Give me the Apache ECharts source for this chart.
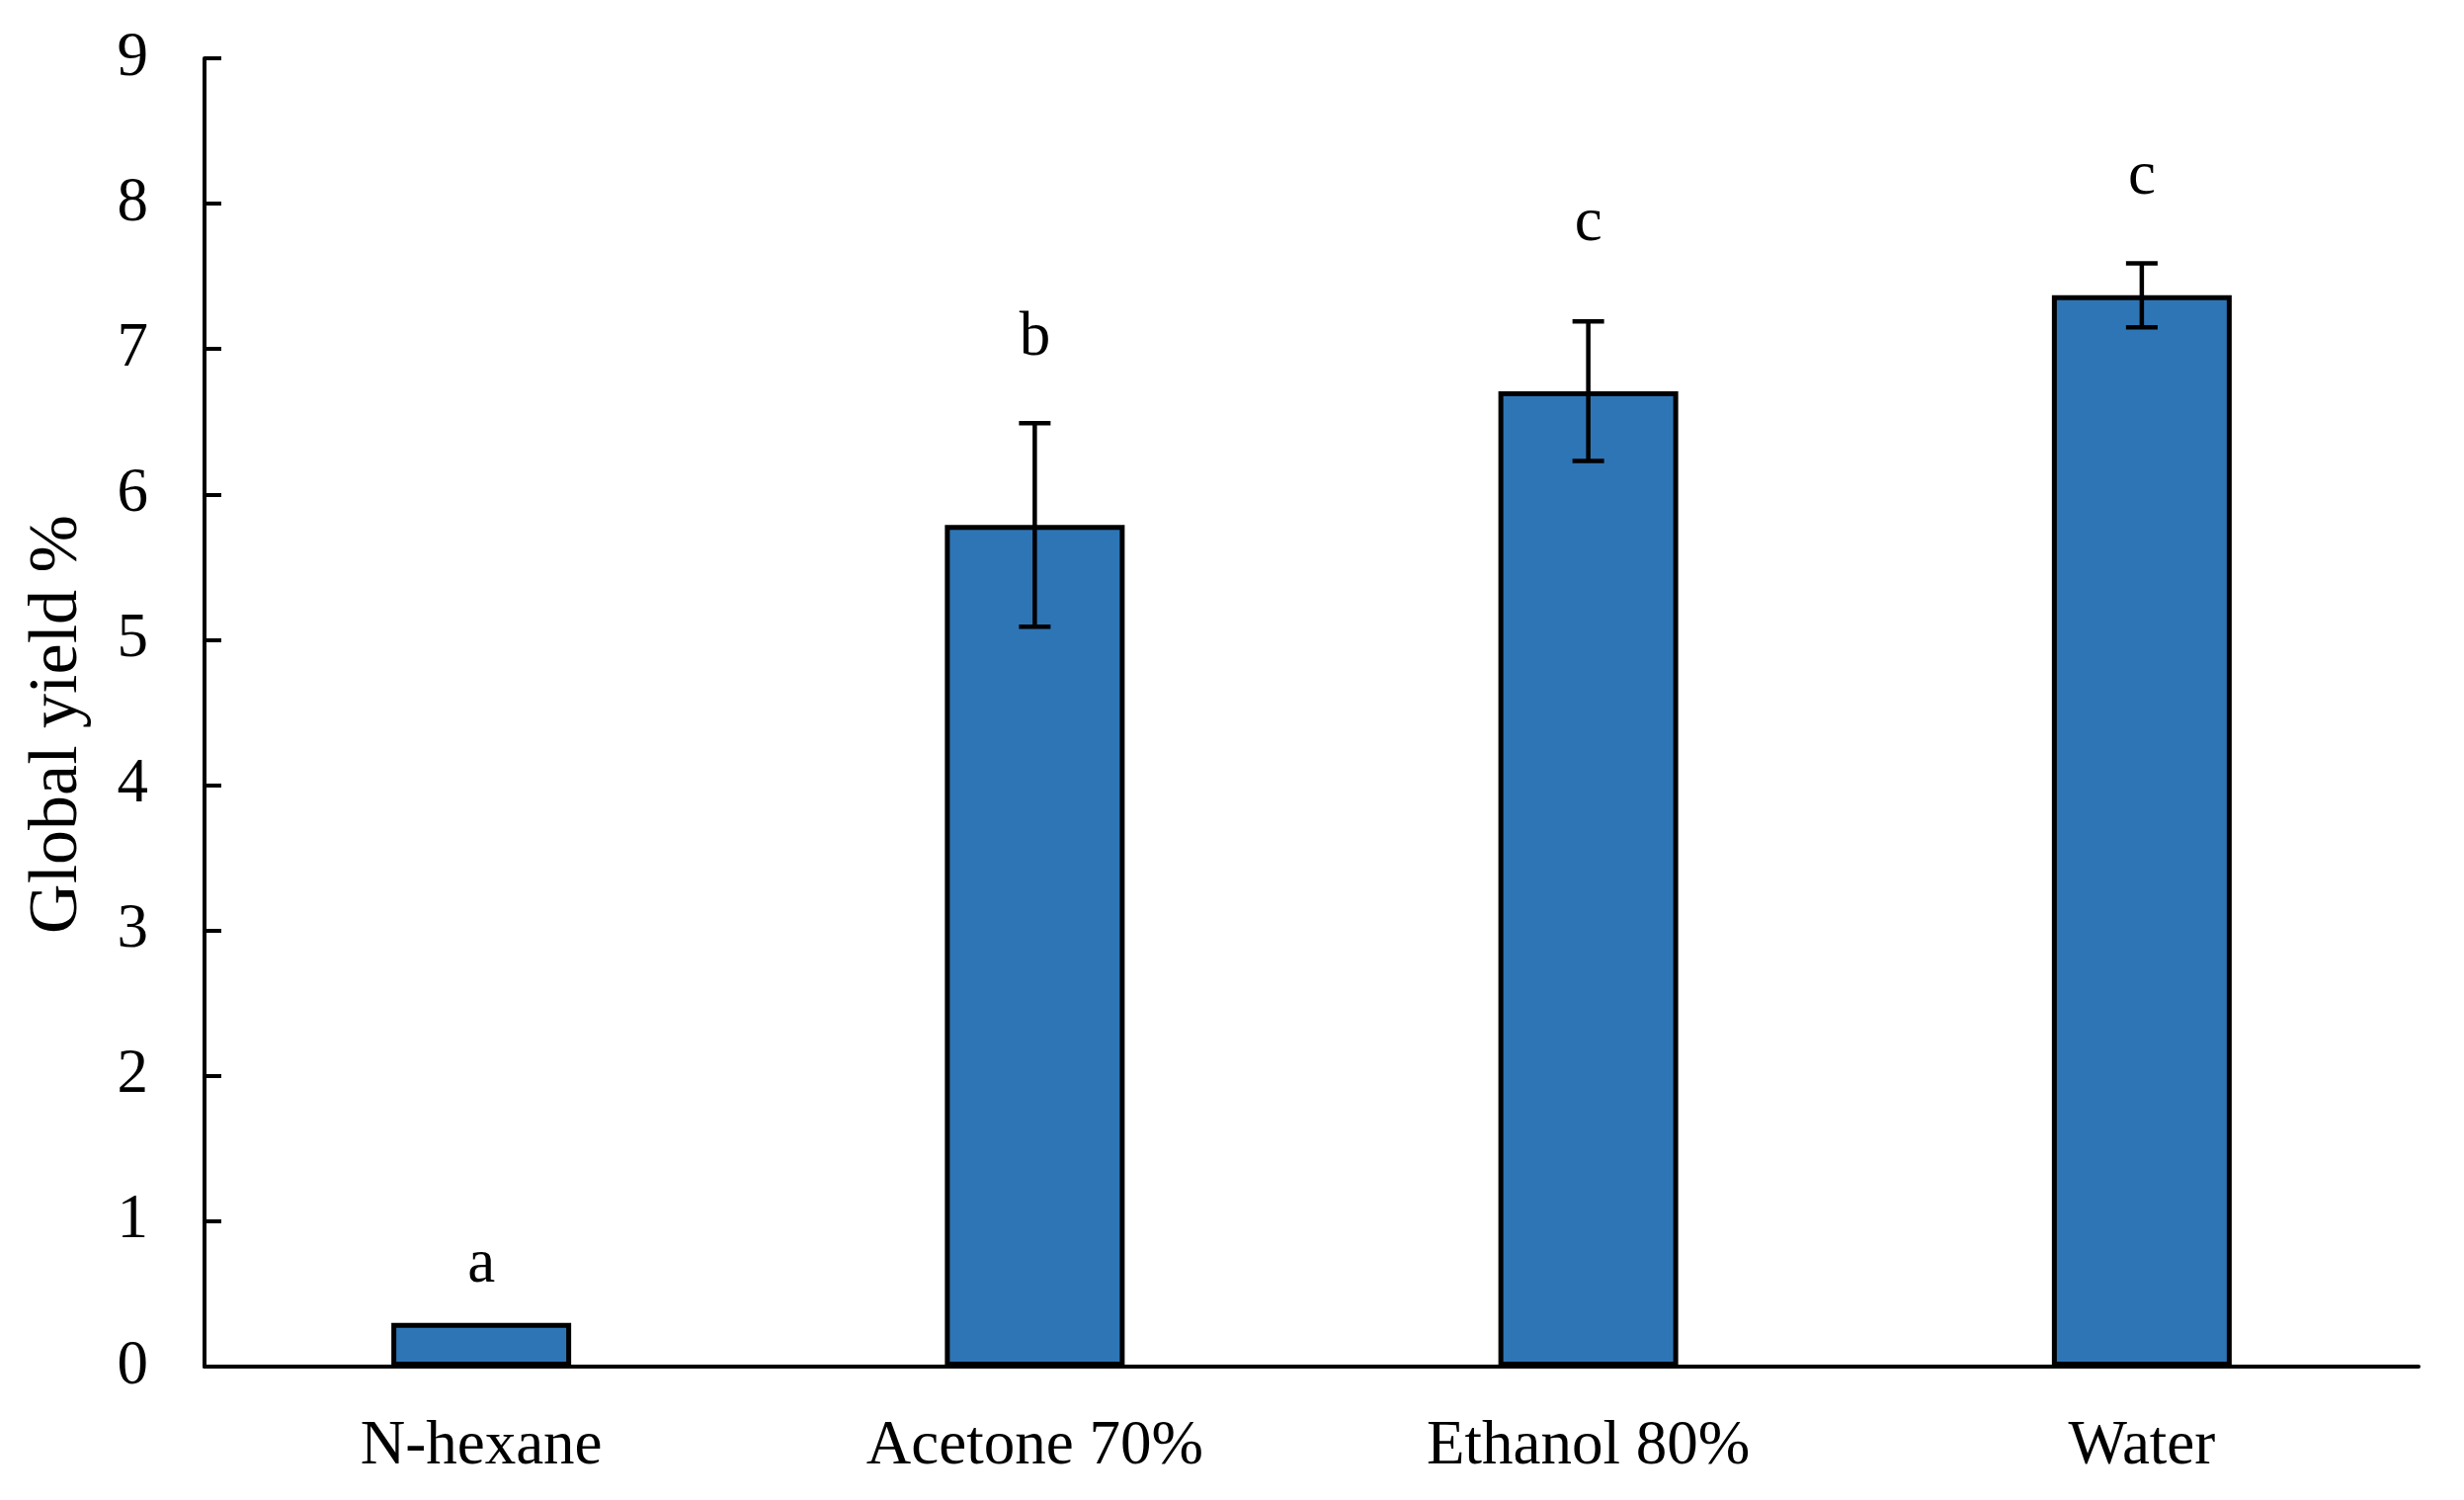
<!DOCTYPE html>
<html>
<head>
<meta charset="utf-8">
<script src="https://cdn.jsdelivr.net/npm/echarts@6/dist/echarts.min.js"></script>
<style>
html,body{margin:0;padding:0;background:#fff;}
#chart{width:2494px;height:1518px;}
</style>
</head>
<body>
<div id="chart"></div>
<script>
const categories = ['N-hexane', 'Acetone 70%', 'Ethanol 80%', 'Water'];
const yieldValues = [0.30, 5.79, 6.71, 7.37];
const errorValues = [0.00, 0.70, 0.48, 0.22];
const letters = ['a', 'b', 'c', 'c'];
const letterY = [0.70, 7.07, 7.86, 8.18];
const yTicks = [0, 1, 2, 3, 4, 5, 6, 7, 8, 9];

const FONT = '"Liberation Serif", "Times New Roman", serif';

const errorData = categories.map((c, i) => [i, yieldValues[i] - errorValues[i], yieldValues[i] + errorValues[i], errorValues[i]]);
const letterData = categories.map((c, i) => [i, letterY[i], letters[i]]);

const chart = echarts.init(document.getElementById('chart'), null, {renderer: 'canvas'});
chart.setOption({
  backgroundColor: '#ffffff',
  animation: false,
  grid: {left: 207, right: 46, top: 59, bottom: 135, containLabel: false},
  xAxis: {
    type: 'category',
    data: categories,
    axisLine: {lineStyle: {color: '#000', width: 4}},
    axisTick: {show: false},
    axisLabel: {color: '#000', fontFamily: FONT, fontSize: 63, margin: 50}
  },
  yAxis: {
    type: 'value',
    min: yTicks[0],
    max: yTicks[yTicks.length - 1],
    interval: 1,
    name: 'Global yield %',
    nameLocation: 'middle',
    nameGap: 113,
    nameTextStyle: {color: '#000', fontFamily: FONT, fontSize: 70, padding: [0, 24, 0, 0]},
    axisLine: {show: true, lineStyle: {color: '#000', width: 4}},
    axisTick: {show: true, inside: true, length: 17, lineStyle: {color: '#000', width: 4}},
    axisLabel: {color: '#000', fontFamily: FONT, fontSize: 63, margin: 57},
    splitLine: {show: false}
  },
  series: [
    {
      type: 'bar',
      data: yieldValues,
      barWidth: 182,
      itemStyle: {color: '#2E75B6', borderColor: '#000', borderWidth: 5},
      z: 2
    },
    {
      type: 'custom',
      data: errorData,
      z: 3,
      renderItem: function (params, api) {
        if (api.value(3) <= 0) return null;
        const x = api.coord([api.value(0), 0])[0];
        const lo = api.coord([api.value(0), api.value(1)])[1];
        const hi = api.coord([api.value(0), api.value(2)])[1];
        const hw = 16;
        const style = {stroke: '#000', lineWidth: 4.5};
        return {
          type: 'group',
          children: [
            {type: 'line', shape: {x1: x, y1: lo, x2: x, y2: hi}, style: style},
            {type: 'line', shape: {x1: x - hw, y1: hi, x2: x + hw, y2: hi}, style: style},
            {type: 'line', shape: {x1: x - hw, y1: lo, x2: x + hw, y2: lo}, style: style}
          ]
        };
      }
    },
    {
      type: 'scatter',
      data: letterData,
      symbolSize: 0,
      itemStyle: {color: '#000', opacity: 1},
      z: 4,
      label: {
        show: true,
        position: 'inside',
        formatter: function (p) { return p.data[2]; },
        color: '#000',
        opacity: 1,
        textBorderWidth: 0,
        textBorderColor: 'transparent',
        fontFamily: FONT,
        fontSize: 63
      }
    }
  ]
});
</script>
</body>
</html>
